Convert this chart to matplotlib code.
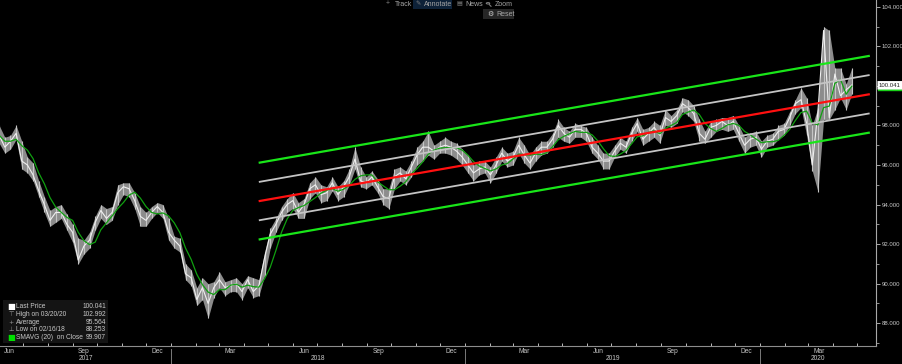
import matplotlib
matplotlib.use('Agg')
import matplotlib.pyplot as plt
import matplotlib.dates as mdates
import matplotlib.transforms as mtrans
from matplotlib.patches import Rectangle, Circle, FancyBboxPatch
from matplotlib.lines import Line2D
import numpy as np
import pandas as pd

# ---------------- data (weekly, Friday) ----------------
week_end = pd.date_range('2017-06-02', periods=152, freq='7D')

close = [97.5, 96.9, 97.2, 97.6, 96.2, 96.0, 95.5, 94.7, 94.0, 93.2,
         93.6, 93.6, 93.0, 92.6, 91.2, 91.9, 92.2, 93.1, 93.7, 93.3,
         93.6, 94.6, 94.9, 94.8, 94.2, 93.4, 93.2, 93.6, 93.9, 93.6,
         92.6, 92.2, 91.9, 90.5, 90.3, 89.2, 89.8, 89.0, 89.8, 90.2,
         89.8, 89.9, 90.0, 89.6, 90.2, 89.6, 89.9, 91.3, 92.5, 93.0,
         93.6, 94.0, 94.2, 93.6, 94.0, 94.8, 95.0, 94.5, 94.6, 95.1,
         94.5, 94.9, 95.4, 96.3, 95.2, 95.1, 95.4, 94.9, 94.4, 94.3,
         95.4, 95.6, 95.3, 95.9, 96.5, 96.9, 96.9, 96.7, 96.9, 97.0,
         96.9, 96.7, 96.4, 96.0, 95.6, 95.8, 95.9, 95.5, 96.0, 96.6,
         96.2, 96.4, 97.0, 96.5, 96.1, 96.6, 96.9, 96.9, 97.3, 98.0,
         97.6, 97.4, 97.8, 97.8, 97.6, 96.9, 96.6, 96.2, 96.2, 96.7,
         97.1, 96.9, 97.6, 98.1, 97.3, 97.6, 97.9, 97.5, 98.4, 98.2,
         98.5, 99.1, 98.9, 98.6, 97.6, 97.3, 97.9, 98.0, 98.2, 98.0,
         98.2, 97.6, 97.0, 97.3, 97.4, 96.8, 97.2, 97.3, 97.7, 97.8,
         98.4, 99.1, 99.3, 98.1, 96.0, 98.7, 102.8, 98.4, 100.6, 99.5,
         99.8, 100.041]

high = [98.0, 97.4, 97.5, 98.0, 97.2, 96.4, 96.1, 95.2, 94.4, 93.7,
        93.9, 94.0, 93.5, 93.0, 92.3, 92.2, 92.6, 93.4, 94.0, 93.8,
        93.9, 95.0, 95.1, 95.1, 94.6, 93.9, 93.6, 93.9, 94.1, 94.0,
        93.3, 92.4, 92.3, 91.0, 90.7, 89.8, 90.3, 90.0, 90.1, 90.6,
        90.1, 90.2, 90.3, 90.0, 90.4, 90.3, 90.2, 91.6, 92.8, 93.3,
        93.9, 94.3, 94.6, 94.1, 94.3, 95.1, 95.4, 95.0, 94.9, 95.4,
        94.9, 95.2, 95.8, 96.9, 95.9, 95.4, 95.7, 95.3, 94.8, 94.8,
        95.8, 95.9, 95.7, 96.2, 96.9, 97.2, 97.7, 97.0, 97.2, 97.4,
        97.2, 97.1, 96.8, 96.5, 96.0, 96.2, 96.2, 95.9, 96.4, 96.9,
        96.6, 96.7, 97.4, 97.0, 96.5, 96.9, 97.2, 97.2, 97.6, 98.3,
        97.9, 97.7, 98.1, 98.0, 97.9, 97.4, 97.0, 96.6, 96.6, 97.0,
        97.4, 97.2, 97.9, 98.4, 97.8, 97.9, 98.2, 98.0, 98.8, 98.5,
        98.8, 99.4, 99.3, 99.0, 98.3, 97.7, 98.2, 98.3, 98.4, 98.4,
        98.5, 98.0, 97.4, 97.6, 97.7, 97.2, 97.5, 97.6, 98.0, 98.1,
        98.7, 99.3, 99.9, 99.4, 98.0, 98.9, 102.992, 102.8, 100.9, 100.9,
        100.1, 100.9]

low = [97.1, 96.6, 96.8, 97.3, 95.8, 95.6, 95.2, 94.4, 93.6, 92.9,
       93.1, 93.3, 92.7, 92.1, 91.0, 91.5, 91.8, 92.7, 93.3, 93.0,
       93.2, 94.0, 94.5, 94.4, 93.8, 92.9, 92.9, 93.3, 93.6, 93.3,
       92.2, 91.8, 91.6, 90.2, 89.9, 88.9, 89.2, 88.253, 89.3, 89.8,
       89.4, 89.6, 89.6, 89.2, 89.8, 89.3, 89.4, 90.4, 91.8, 92.6,
       93.2, 93.6, 93.8, 93.3, 93.3, 94.3, 94.6, 94.1, 94.2, 94.7,
       94.2, 94.4, 95.0, 95.8, 94.9, 94.8, 95.0, 94.6, 94.0, 93.8,
       94.8, 95.2, 95.0, 95.4, 96.0, 96.2, 96.5, 96.3, 96.6, 96.6,
       96.5, 96.3, 96.0, 95.6, 95.2, 95.5, 95.6, 95.1, 95.6, 96.2,
       95.9, 96.0, 96.6, 96.1, 95.8, 96.2, 96.5, 96.6, 96.9, 97.4,
       97.2, 97.1, 97.4, 97.4, 97.2, 96.6, 96.3, 95.8, 95.8, 96.4,
       96.8, 96.6, 97.2, 97.7, 97.0, 97.2, 97.4, 97.1, 98.0, 97.9,
       98.1, 98.7, 98.5, 98.2, 97.2, 97.1, 97.4, 97.7, 97.8, 97.7,
       97.8, 97.2, 96.6, 96.9, 97.0, 96.4, 96.9, 97.0, 97.3, 97.5,
       98.0, 98.6, 98.9, 97.5, 95.7, 94.65, 98.3, 98.3, 98.8, 99.4,
       98.8, 99.6]

# regression channel
channel_dates = ['2018-04-21', '2020-05-15']
channel_mid = [94.18, 99.57]
channel_offsets = [1.94, 0.97, -0.97, -1.94]

# legend values
legend_labels = ['Last Price', 'High on 03/20/20', 'Average', 'Low on 02/16/18', 'SMAVG (20)  on Close']
legend_values = ['100.041', '102.992', '95.564', '88.253', '99.907']
last_price = 100.041
sma_last = 99.907

# ---------------- figure ----------------
W, H = 902, 364
fig = plt.figure(figsize=(W / 100, H / 100), dpi=100, facecolor='black')
ax = fig.add_axes([0, 18 / H, 876 / W, 346 / H], facecolor='black')

FONT = ['Liberation Sans', 'DejaVu Sans']
TXT = '#c8c8c8'

dates = mdates.date2num(week_end.to_pydatetime())
c = np.array(close); h = np.array(high); l = np.array(low)

# price
ax.fill_between(dates, l, h, color='#8c8c8c', lw=0, zorder=2)
ax.vlines(dates, l, h, color='#c4c4c4', lw=0.8, zorder=3)
ax.plot(dates, c, color='#f0f0f0', lw=0.8, zorder=4)

# moving average (20-day ~ 4 weeks)
sma = pd.Series(close).rolling(4, min_periods=1).mean()
ax.plot(dates, sma, color='#10a010', lw=0.9, zorder=5)

# channel
cd = mdates.date2num(pd.to_datetime(channel_dates).to_pydatetime())
cm = np.array(channel_mid)
ax.plot(cd, cm, color='#ff1010', lw=1.6, zorder=6)
for off in channel_offsets:
    col = '#19e619' if abs(off) > 1.5 else '#c4c4c4'
    lw = 1.6 if abs(off) > 1.5 else 1.3
    ax.plot(cd, cm + off, color=col, lw=lw, zorder=6)

# axes limits
x0 = mdates.date2num(pd.Timestamp('2017-06-03'))
x1 = mdates.date2num(pd.Timestamp('2020-05-24'))
ax.set_xlim(x0, x1)
ax.set_ylim(86.85, 104.34)

# spines
for s in ['left', 'top']:
    ax.spines[s].set_visible(False)
ax.spines['right'].set_color('#a8a8a8')
ax.spines['bottom'].set_color('#8c8c8c')
ax.spines['right'].set_linewidth(0.8)
ax.spines['bottom'].set_linewidth(0.8)

# y axis right (100.000 label is covered by the last-price tag)
ax.yaxis.tick_right()
ax.set_yticks(np.arange(88, 105, 2))
ax.set_yticks(np.arange(87, 105, 2), minor=True)
ax.yaxis.set_major_formatter(matplotlib.ticker.FuncFormatter(
    lambda v, p: '' if abs(v - 100) < 1e-6 else f'{v:.3f}'))
ax.tick_params(axis='y', which='major', colors='#a8a8a8', labelcolor=TXT, length=3, width=0.7, pad=1, labelsize=4.3)
ax.tick_params(axis='y', which='minor', colors='#a8a8a8', length=2, width=0.6)
for t in ax.get_yticklabels():
    t.set_family(FONT)

# x axis: month ticks, custom labels
ax.xaxis.set_major_locator(mdates.MonthLocator())
ax.xaxis.set_major_formatter(matplotlib.ticker.NullFormatter())
ax.tick_params(axis='x', which='major', colors='#bdbdbd', length=2, width=0.7, direction='in')

trans = mtrans.blended_transform_factory(ax.transData, ax.transAxes)
for yr in [2017, 2018, 2019, 2020]:
    for m, name in [(3, 'Mar'), (6, 'Jun'), (9, 'Sep'), (12, 'Dec')]:
        d = mdates.date2num(pd.Timestamp(year=yr, month=m, day=15))
        if x0 <= d <= x1 - 20:
            ax.text(d, -0.016, name, transform=trans, ha='center', va='center',
                    fontsize=4.8, color=TXT, family=FONT, clip_on=False)
# year labels + separators
bounds = [x0] + [mdates.date2num(pd.Timestamp(f'{y}-01-01')) for y in (2018, 2019, 2020)] + [x1]
for i, yr in enumerate([2017, 2018, 2019, 2020]):
    mid = (bounds[i] + bounds[i + 1]) / 2
    ax.text(mid, -0.036, str(yr), transform=trans, ha='center', va='center',
            fontsize=4.8, color=TXT, family=FONT, clip_on=False)
for b in bounds[1:-1]:
    ax.plot([b, b], [-0.008, -0.06], transform=trans, color='#7a7a7a', lw=0.7, clip_on=False)

# last price / sma markers on right axis (figure pixel coordinates)
def fx(px): return px / W
def fy(py): return 1 - py / H

y_last_px = H - ax.transData.transform((0, last_price))[1]
y_sma_px = H - ax.transData.transform((0, sma_last))[1]
fig.patches.append(FancyBboxPatch((fx(878), fy(y_sma_px + 3.5)), fx(902) - fx(878), fy(0) - fy(7),
                                  boxstyle='round,pad=0.0', transform=fig.transFigure,
                                  fc='#18d018', ec='none', zorder=20))
fig.patches.append(FancyBboxPatch((fx(877.5), fy(y_last_px + 4.5)), fx(902) - fx(877.5), fy(0) - fy(8.5),
                                  boxstyle='round,pad=0.0', transform=fig.transFigure,
                                  fc='white', ec='none', zorder=21))
fig.text(fx(879), fy(y_last_px), f'{last_price:.3f}', ha='left', va='center', fontsize=4.3,
         color='#202020', family=FONT, zorder=22)

# legend box
fig.patches.append(Rectangle((fx(3), fy(343)), fx(108) - fx(3), fy(300) - fy(343),
                             transform=fig.transFigure, fc='#141414', ec='none', zorder=10))
rows_y = [306.5, 314.5, 322, 329.5, 337.5]
icons = ['\u25a0', '\u22a4', '+', '\u22a5', '\u25a0']
icon_cols = ['white', '#9a9a9a', '#9a9a9a', '#9a9a9a', '#00e000']
for yy, ic, icc, lab, val in zip(rows_y, icons, icon_cols, legend_labels, legend_values):
    fig.text(fx(11), fy(yy), ic, ha='center', va='center', fontsize=6 if ic == '\u25a0' else 4.5,
             color=icc, family=['DejaVu Sans'], zorder=11)
    fig.text(fx(16), fy(yy), lab, ha='left', va='center', fontsize=4.8, color=TXT, family=FONT, zorder=11)
    fig.text(fx(106), fy(yy), val, ha='right', va='center', fontsize=4.8, color=TXT, family=FONT, zorder=11)

# toolbar
fig.patches.append(Rectangle((fx(413), fy(8.5)), fx(452) - fx(413), fy(0) - fy(8.5),
                             transform=fig.transFigure, fc='#0d2138', ec='none'))
fig.patches.append(Rectangle((fx(483), fy(19)), fx(514) - fx(483), fy(9.5) - fy(19),
                             transform=fig.transFigure, fc='#262626', ec='none'))
tb = '#a6a6a6'
fig.text(fx(388), fy(4), '+', ha='center', va='center', fontsize=5, color='#808080', family=FONT)
fig.text(fx(395), fy(4), 'Track', ha='left', va='center', fontsize=5, color=tb, family=FONT)
fig.text(fx(418), fy(4), '\u270e', ha='center', va='center', fontsize=4.5, color='#808080', family=['DejaVu Sans'])
fig.text(fx(424), fy(4), 'Annotate', ha='left', va='center', fontsize=5, color=tb, family=FONT)
fig.text(fx(459), fy(4), '\u25a4', ha='center', va='center', fontsize=4.5, color='#808080', family=['DejaVu Sans'])
fig.text(fx(465), fy(4), 'News', ha='left', va='center', fontsize=5, color=tb, family=FONT)
# magnifier icon drawn as shapes
fig.patches.append(Circle((fx(488), fy(3.3)), 1.8 / W, transform=fig.transFigure,
                          fc='none', ec='#808080', lw=0.7))
fig.lines.append(Line2D([fx(489.3), fx(491)], [fy(4.6), fy(6.3)], transform=fig.transFigure,
                        color='#808080', lw=0.8))
fig.text(fx(495), fy(4), 'Zoom', ha='left', va='center', fontsize=5, color=tb, family=FONT)
fig.text(fx(490), fy(14), '\u2699', ha='center', va='center', fontsize=5, color='#d0d0d0', family=['DejaVu Sans'])
fig.text(fx(496), fy(14), 'Reset', ha='left', va='center', fontsize=5, color=tb, family=FONT)

fig.savefig('out.png', dpi=100, facecolor='black')
